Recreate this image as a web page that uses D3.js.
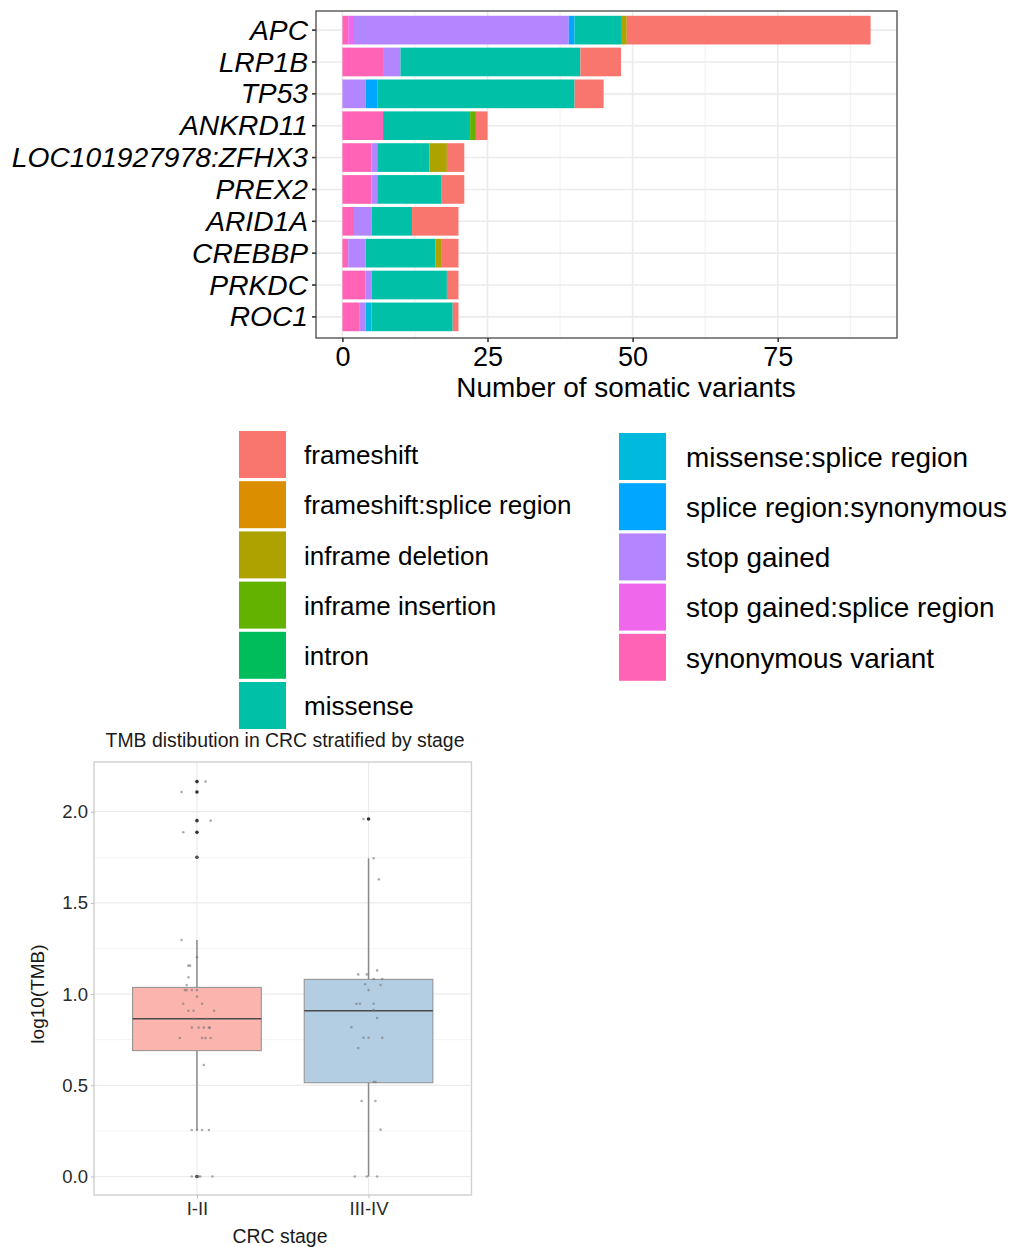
<!DOCTYPE html>
<html>
<head>
<meta charset="utf-8">
<script src="https://cdn.jsdelivr.net/npm/d3@7"></script>
<style>
body { margin: 0; background: #fff; }
svg { display: block; }
text { font-family: "Liberation Sans", Arial, Helvetica, sans-serif; }
</style>
</head>
<body>
<div id="chart"></div>
<script>
// ---- data: somatic variants per gene ----
var genes = ["APC", "LRP1B", "TP53", "ANKRD11", "LOC101927978:ZFHX3", "PREX2", "ARID1A", "CREBBP", "PRKDC", "ROC1"]

var variantTypes = ["frameshift", "frameshift:splice region", "inframe deletion", "inframe insertion", "intron",
    "missense", "missense:splice region", "splice region:synonymous", "stop gained", "stop gained:splice region",
    "synonymous variant"]
var variantColors = ["#F8766D", "#DB8E00", "#AEA200", "#64B200", "#00BD5C", "#00C1A7", "#00BADE", "#00A6FF",
    "#B385FF", "#EF67EB", "#FF63B6"]

// counts, in gene order
var frameshift            = [42, 7, 5, 2, 3, 4, 8, 3, 2, 1]
var frameshiftSplice      = [0, 0, 0, 0, 0, 0, 0, 0, 0, 0]
var inframeDeletion       = [1, 0, 0, 0, 3, 0, 0, 1, 0, 0]
var inframeInsertion      = [0, 0, 0, 1, 0, 0, 0, 0, 0, 0]
var intron                = [0, 0, 0, 0, 0, 0, 0, 0, 0, 0]
var missense              = [8, 31, 34, 15, 9, 11, 7, 12, 13, 14]
var missenseSplice        = [0, 0, 0, 0, 0, 0, 0, 0, 0, 1]
var spliceSynonymous      = [1, 0, 2, 0, 0, 0, 0, 0, 0, 0]
var stopGained            = [37, 3, 4, 0, 1, 1, 3, 3, 1, 1]
var stopGainedSplice      = [1, 0, 0, 0, 0, 0, 0, 0, 0, 0]
var synonymous            = [1, 7, 0, 7, 5, 5, 2, 1, 4, 3]

var xTicks = [0, 25, 50, 75]
var xMinor = [12.5, 37.5, 62.5, 87.5]

// ---- data: TMB by stage ----
var stages = ["I-II", "III-IV"]
var boxQ1 = [0.69, 0.514]
var boxMedian = [0.865, 0.909]
var boxQ3 = [1.037, 1.081]
var whiskerLow = [0.255, 0.0]
var whiskerHigh = [1.297, 1.745]
var outliersEarly = [2.165, 2.108, 1.951, 1.887, 1.75, 0.0]
var outliersLate = [1.96]
// jittered samples: value and jitter (fraction of category spacing)
var tmbEarly = [2.165, 2.108, 1.951, 1.887, 1.75, 1.297, 1.202, 1.156, 1.156, 1.092, 1.05, 1.022, 1.022, 1.022, 1.022,
    0.986, 0.947, 0.947, 0.909, 0.909, 0.909, 0.865, 0.865, 0.816, 0.816, 0.816, 0.816, 0.816, 0.759, 0.759, 0.759,
    0.759, 0.611, 0.255, 0.255, 0.255, 0.255, 0.0, 0.0, 0.0, 0.0, 0.0]
var jitterEarly = [0.05, -0.09, 0.08, -0.08, 0, -0.09, 0, -0.05, -0.04, -0.05, -0.06, -0.07, -0.06, -0.03, 0,
    0, -0.08, 0.03, -0.05, -0.02, 0.1, -0.02, 0.06, -0.03, 0.01, 0.04, 0.07, 0.075, -0.1, 0.03, 0.05,
    0.08, 0.04, -0.03, 0, 0.03, 0.07, -0.03, 0, 0.01, 0.02, 0.09]
var tmbLate = [1.96, 1.745, 1.629, 1.108, 1.108, 1.13, 1.083, 1.083, 1.054, 1.05, 1.022, 0.947, 0.947, 0.947, 0.913,
    0.869, 0.818, 0.761, 0.761, 0.761, 0.704, 0.518, 0.518, 0.414, 0.414, 0.257, 0.0, 0.0, 0.0]
var jitterLate = [-0.03, 0.03, 0.06, -0.06, -0.01, 0.05, 0.03, 0.08, -0.02, 0.07, 0, -0.07, -0.05, 0.03, 0.03,
    0.05, -0.1, -0.03, 0, 0.08, -0.06, 0.03, 0.04, -0.04, 0.04, 0.07, -0.08, -0.01, 0.05]
var yTicksTmb = [0, 0.5, 1, 1.5, 2]
var yMinorTmb = [0.25, 0.75, 1.25, 1.75]

var svg = d3.select("#chart").append("svg")
    .attr("width", 1014)
    .attr("height", 1247)

// ================= bar chart =================
var panel = { left: 316, right: 897, top: 11, bottom: 338 }

var xScale = d3.scaleLinear().domain([-4.55, 95.55]).range([panel.left, panel.right])
var yScale = d3.scaleBand().domain(genes).range([panel.top, panel.bottom - 2])
    .paddingInner(0.1).paddingOuter(0.15)

var barG = svg.append("g")

barG.append("rect")
    .attr("x", panel.left).attr("y", panel.top)
    .attr("width", panel.right - panel.left).attr("height", panel.bottom - panel.top)
    .attr("fill", "#fff")

barG.selectAll(".minor").data(xMinor).enter().append("line")
    .attr("x1", d => xScale(d)).attr("x2", d => xScale(d))
    .attr("y1", panel.top).attr("y2", panel.bottom)
    .attr("stroke", "#f0f0f0").attr("stroke-width", 1)
barG.selectAll(".major").data(xTicks).enter().append("line")
    .attr("x1", d => xScale(d)).attr("x2", d => xScale(d))
    .attr("y1", panel.top).attr("y2", panel.bottom)
    .attr("stroke", "#ebebeb").attr("stroke-width", 1.6)
barG.selectAll(".hgrid").data(genes).enter().append("line")
    .attr("x1", panel.left).attr("x2", panel.right)
    .attr("y1", d => yScale(d) + yScale.bandwidth() / 2)
    .attr("y2", d => yScale(d) + yScale.bandwidth() / 2)
    .attr("stroke", "#ebebeb").attr("stroke-width", 1.6)

var countArrays = [frameshift, frameshiftSplice, inframeDeletion, inframeInsertion, intron, missense,
    missenseSplice, spliceSynonymous, stopGained, stopGainedSplice, synonymous]
var rows = genes.map((g, i) => {
    var row = { gene: g }
    variantTypes.forEach((t, j) => { row[t] = countArrays[j][i] })
    return row
})
var color = d3.scaleOrdinal().domain(variantTypes).range(variantColors)

// last level sits on the left (ggplot stacking order)
var stacked = d3.stack().keys(variantTypes.slice().reverse())(rows)

barG.selectAll(".layer").data(stacked).enter().append("g")
    .attr("fill", d => color(d.key))
    .selectAll("rect").data(d => d.filter(s => s[1] > s[0])).enter().append("rect")
    .attr("x", d => xScale(d[0]))
    .attr("width", d => xScale(d[1]) - xScale(d[0]))
    .attr("y", d => yScale(d.data.gene))
    .attr("height", yScale.bandwidth())

barG.append("rect")
    .attr("x", panel.left).attr("y", panel.top)
    .attr("width", panel.right - panel.left).attr("height", panel.bottom - panel.top)
    .attr("fill", "none").attr("stroke", "#555").attr("stroke-width", 1.4)

var leftAxis = d3.axisLeft(yScale).tickSize(4).tickPadding(4)
var gy = barG.append("g").attr("transform", `translate(${panel.left}, 0)`).call(leftAxis)
gy.select(".domain").remove()
gy.selectAll("line").attr("stroke", "#333").attr("stroke-width", 1.6)
gy.selectAll("text").attr("font-size", 28.2).attr("font-style", "italic").attr("fill", "#000")
    .attr("font-family", "Liberation Sans, Arial, sans-serif")
    .attr("dy", "0.34em")

var bottomAxis = d3.axisBottom(xScale).tickValues(xTicks).tickSize(4).tickPadding(5)
var gx = barG.append("g").attr("transform", `translate(0, ${panel.bottom})`).call(bottomAxis)
gx.select(".domain").remove()
gx.selectAll("line").attr("stroke", "#333").attr("stroke-width", 1.6)
gx.selectAll("text").attr("font-size", 27).attr("fill", "#000")
    .attr("font-family", "Liberation Sans, Arial, sans-serif")

barG.append("text")
    .attr("x", 626).attr("y", 397)
    .attr("text-anchor", "middle").attr("font-size", 27.9)
    .text("Number of somatic variants")

// legend, two columns (right column is set a little larger in the original)
var legend = svg.append("g")
variantTypes.forEach((t, i) => {
    var col = i < 6 ? 0 : 1
    var row = col === 0 ? i : i - 6
    var kx = col === 0 ? 239 : 619
    var ky = (col === 0 ? 431 : 433) + row * 50.2
    legend.append("rect")
        .attr("x", kx).attr("y", ky).attr("width", 47).attr("height", 47)
        .attr("fill", color(t))
    legend.append("text")
        .attr("x", kx + (col === 0 ? 65 : 67)).attr("y", ky + 24)
        .attr("dy", "0.35em").attr("font-size", col === 0 ? 26 : 27.9)
        .text(t)
})

// ================= TMB boxplot =================
var bp = { left: 94, right: 471.5, top: 762, bottom: 1195 }
var bx = d3.scalePoint().domain(stages).range([bp.left, bp.right]).padding(0.6)
var by = d3.scaleLinear().domain([-0.1014, 2.2725]).range([bp.bottom, bp.top])
var step = bx.step()
var boxW = 0.75 * step

var low = svg.append("g")

low.selectAll(".ymin").data(yMinorTmb).enter().append("line")
    .attr("x1", bp.left).attr("x2", bp.right)
    .attr("y1", d => by(d)).attr("y2", d => by(d))
    .attr("stroke", "#f4f4f4").attr("stroke-width", 1)
low.selectAll(".ymaj").data(yTicksTmb).enter().append("line")
    .attr("x1", bp.left).attr("x2", bp.right)
    .attr("y1", d => by(d)).attr("y2", d => by(d))
    .attr("stroke", "#ebebeb").attr("stroke-width", 1.2)
low.selectAll(".xmaj").data(stages).enter().append("line")
    .attr("x1", d => bx(d)).attr("x2", d => bx(d))
    .attr("y1", bp.top).attr("y2", bp.bottom)
    .attr("stroke", "#ebebeb").attr("stroke-width", 1.2)

var boxFill = ["#FBB4AE", "#B3CDE3"]
stages.forEach((s, i) => {
    var cx = bx(s)
    low.append("line")
        .attr("x1", cx).attr("x2", cx)
        .attr("y1", by(whiskerHigh[i])).attr("y2", by(boxQ3[i]))
        .attr("stroke", "#8a8a8a").attr("stroke-width", 1.5)
    low.append("line")
        .attr("x1", cx).attr("x2", cx)
        .attr("y1", by(boxQ1[i])).attr("y2", by(whiskerLow[i]))
        .attr("stroke", "#8a8a8a").attr("stroke-width", 1.5)
    low.append("rect")
        .attr("x", cx - boxW / 2).attr("y", by(boxQ3[i]))
        .attr("width", boxW).attr("height", by(boxQ1[i]) - by(boxQ3[i]))
        .attr("fill", boxFill[i]).attr("stroke", "#8f8f8f").attr("stroke-width", 1)
    low.append("line")
        .attr("x1", cx - boxW / 2).attr("x2", cx + boxW / 2)
        .attr("y1", by(boxMedian[i])).attr("y2", by(boxMedian[i]))
        .attr("stroke", "#4a4a4a").attr("stroke-width", 1.6)
})

var outlierPts = outliersEarly.map(v => ({ stage: "I-II", v: v }))
    .concat(outliersLate.map(v => ({ stage: "III-IV", v: v })))
low.selectAll(".outlier").data(outlierPts).enter().append("circle")
    .attr("cx", d => bx(d.stage)).attr("cy", d => by(d.v))
    .attr("r", 1.8).attr("fill", "#333")

var jitterPts = tmbEarly.map((v, i) => ({ stage: "I-II", v: v, j: jitterEarly[i] }))
    .concat(tmbLate.map((v, i) => ({ stage: "III-IV", v: v, j: jitterLate[i] })))
low.selectAll(".jit").data(jitterPts).enter().append("circle")
    .attr("cx", d => bx(d.stage) + d.j * step).attr("cy", d => by(d.v))
    .attr("r", 1.3).attr("fill", "#777").attr("opacity", 0.6)

low.append("rect")
    .attr("x", bp.left).attr("y", bp.top)
    .attr("width", bp.right - bp.left).attr("height", bp.bottom - bp.top)
    .attr("fill", "none").attr("stroke", "#cfcfcf").attr("stroke-width", 1.4)

var tmbAxisY = d3.axisLeft(by).tickValues(yTicksTmb).tickFormat(d3.format(".1f")).tickSize(3).tickPadding(3)
var gty = low.append("g").attr("transform", `translate(${bp.left}, 0)`).call(tmbAxisY)
gty.select(".domain").remove()
gty.selectAll("line").attr("stroke", "#bbb")
gty.selectAll("text").attr("font-size", 18.5).attr("fill", "#2a2a2a")
    .attr("font-family", "Liberation Sans, Arial, sans-serif")

var tmbAxisX = d3.axisBottom(bx).tickSize(3).tickPadding(4)
var gtx = low.append("g").attr("transform", `translate(0, ${bp.bottom})`).call(tmbAxisX)
gtx.select(".domain").remove()
gtx.selectAll("line").attr("stroke", "#bbb")
gtx.selectAll("text").attr("font-size", 18.5).attr("fill", "#2a2a2a")
    .attr("font-family", "Liberation Sans, Arial, sans-serif")

low.append("text")
    .attr("x", 285).attr("y", 747)
    .attr("text-anchor", "middle").attr("font-size", 19.4).attr("fill", "#1a1a1a")
    .text("TMB distibution in CRC stratified by stage")

low.append("text")
    .attr("transform", "translate(44, 994) rotate(-90)")
    .attr("text-anchor", "middle").attr("font-size", 19).attr("fill", "#1a1a1a")
    .text("log10(TMB)")

low.append("text")
    .attr("x", 280).attr("y", 1243)
    .attr("text-anchor", "middle").attr("font-size", 19.4).attr("fill", "#1a1a1a")
    .text("CRC stage")
</script>
</body>
</html>
